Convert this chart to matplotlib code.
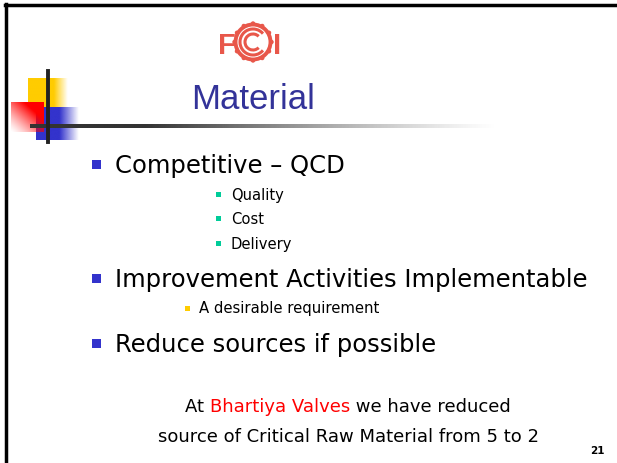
"""
Slide 21 - Material (FCI / Bhartiya Valves)
Recreated with matplotlib as a single static slide image.
"""

import numpy as np
import matplotlib.pyplot as plt
from matplotlib.patches import Rectangle, Arc, Circle

# Slide text
TITLE = "Material"
MAIN_POINTS = ["Competitive \u2013 QCD",
               "Improvement Activities Implementable",
               "Reduce sources if possible"]
QCD_POINTS = ["Quality", "Cost", "Delivery"]
SUB_POINT = "A desirable requirement"
FOOTER_PARTS = ["At ", "Bhartiya Valves", " we have reduced"]
FOOTER_LINE2 = "source of Critical Raw Material from 5 to 2"
PAGE_NO = "21"

# Colours
TITLE_COLOR = '#333399'
LOGO_COLOR = '#E8574A'
BULLET_BLUE = '#3333CC'
BULLET_GREEN = '#00CC99'
BULLET_YELLOW = '#FFCC00'

W, H = 617, 464
BODY_FONT = ['DejaVu Sans']
TITLE_FONT = ['Liberation Sans Narrow', 'Liberation Sans', 'DejaVu Sans']


def gradient_box(ax, x0, x1, y0, y1, rgb, solid_frac, direction='x', zorder=1):
    """Coloured box fading to white (transparent) on one side."""
    n = 100
    t = np.linspace(0, 1, n)
    alpha = np.clip((1 - t) / (1 - solid_frac), 0, 1)
    alpha = np.where(t < solid_frac, 1.0, alpha)
    img = np.zeros((n, n, 4))
    img[..., :3] = rgb
    if direction == 'x':
        img[..., 3] = alpha[None, :]
    else:
        # diagonal: strong at top-right, fading towards bottom-left
        xx, yy = np.meshgrid(t, t)
        img[..., 3] = np.clip((xx + (1 - yy)) / 1.4, 0, 1) ** 1.3
    ax.imshow(img, extent=(x0, x1, y1, y0), aspect='auto', zorder=zorder,
              interpolation='bilinear')


def draw_logo(ax, cx, cy):
    """Small FCI gear logo."""
    ax.text(cx - 26, cy + 11, "F", color=LOGO_COLOR, fontsize=21, fontweight='bold',
            family=TITLE_FONT, ha='center', va='baseline', zorder=5)
    ax.text(cx + 24, cy + 11, "I", color=LOGO_COLOR, fontsize=21, fontweight='bold',
            family=TITLE_FONT, ha='center', va='baseline', zorder=5)
    # gear teeth
    for ang in np.arange(0, 360, 30):
        a = np.deg2rad(ang)
        ax.add_patch(Circle((cx + 18.5 * np.cos(a), cy + 18.5 * np.sin(a)), 2.2,
                            color=LOGO_COLOR, lw=0, zorder=4))
    ax.add_patch(Circle((cx, cy), 17.5, fill=False, ec=LOGO_COLOR, lw=2.8, zorder=4))
    ax.add_patch(Arc((cx, cy), 26, 26, theta1=40, theta2=320, ec=LOGO_COLOR, lw=2.2, zorder=4))
    ax.add_patch(Arc((cx, cy), 16, 16, theta1=45, theta2=315, ec=LOGO_COLOR, lw=2.2, zorder=4))


def main():
    fig = plt.figure(figsize=(W / 100, H / 100), dpi=100)
    ax = fig.add_axes([0, 0, 1, 1])
    ax.set_xlim(0, W)
    ax.set_ylim(H, 0)
    ax.axis('off')

    # slide frame (top and left edges)
    ax.plot([5, W], [6, 6], color='black', lw=2.5, zorder=6)
    ax.plot([6, 6], [5, H], color='black', lw=2.5, zorder=6)

    # decorative squares
    gradient_box(ax, 28, 68, 79, 108, (1.0, 0.8, 0.0), 0.65, zorder=1)
    gradient_box(ax, 36, 79, 108, 141, (0.2, 0.2, 0.8), 0.55, zorder=2)
    gradient_box(ax, 11, 44, 103, 133, (1.0, 0.0, 0.0), 0.0, direction='diag', zorder=3)

    # horizontal rule fading right
    n = 400
    t = np.linspace(0, 1, n)
    rule = np.zeros((1, n, 4))
    rule[..., :3] = 0.2
    rule[0, :, 3] = np.clip((1 - t) / 0.75, 0, 1) ** 1.2
    ax.imshow(rule, extent=(30, 498, 129, 125), aspect='auto', zorder=5,
              interpolation='bilinear')
    # vertical rule
    ax.plot([48, 48], [72, 143], color='#222222', lw=2.8, zorder=6)

    draw_logo(ax, 253, 43)

    ax.text(253, 109, TITLE, color=TITLE_COLOR, fontsize=25, family=TITLE_FONT,
            ha='center', va='baseline')

    # level-1 bullets
    main_y = [173, 287, 352]
    for label, y in zip(MAIN_POINTS, main_y):
        ax.add_patch(Rectangle((92, y - 12), 9, 9, color=BULLET_BLUE, lw=0))
        ax.text(115, y, label, fontsize=17.5, family=BODY_FONT, color='black',
                ha='left', va='baseline')

    # QCD sub bullets
    qcd_y = [200, 224, 249]
    for label, y in zip(QCD_POINTS, qcd_y):
        ax.add_patch(Rectangle((216, y - 7), 5, 5, color=BULLET_GREEN, lw=0))
        ax.text(231, y, label, fontsize=10.6, family=BODY_FONT, color='black',
                ha='left', va='baseline')

    ax.add_patch(Rectangle((185, 307), 5, 4.5, color=BULLET_YELLOW, lw=0))
    ax.text(199, 313, SUB_POINT, fontsize=10.7, family=BODY_FONT, color='black',
            ha='left', va='baseline')

    # footer statement, red company name
    x = 185
    renderer = fig.canvas.get_renderer()
    for part, col in zip(FOOTER_PARTS, ['black', '#FF0000', 'black']):
        txt = ax.text(x, 412, part, fontsize=13, family=BODY_FONT, color=col,
                      ha='left', va='baseline')
        bb = txt.get_window_extent(renderer=renderer)
        x += bb.width
    ax.text(348, 442, FOOTER_LINE2, fontsize=13, family=BODY_FONT, color='black',
            ha='center', va='baseline')

    ax.text(597, 454, PAGE_NO, fontsize=7.5, fontweight='bold', family=BODY_FONT,
            ha='center', va='baseline')

    fig.savefig('out.png', dpi=100)
    plt.close(fig)


if __name__ == "__main__":
    main()
